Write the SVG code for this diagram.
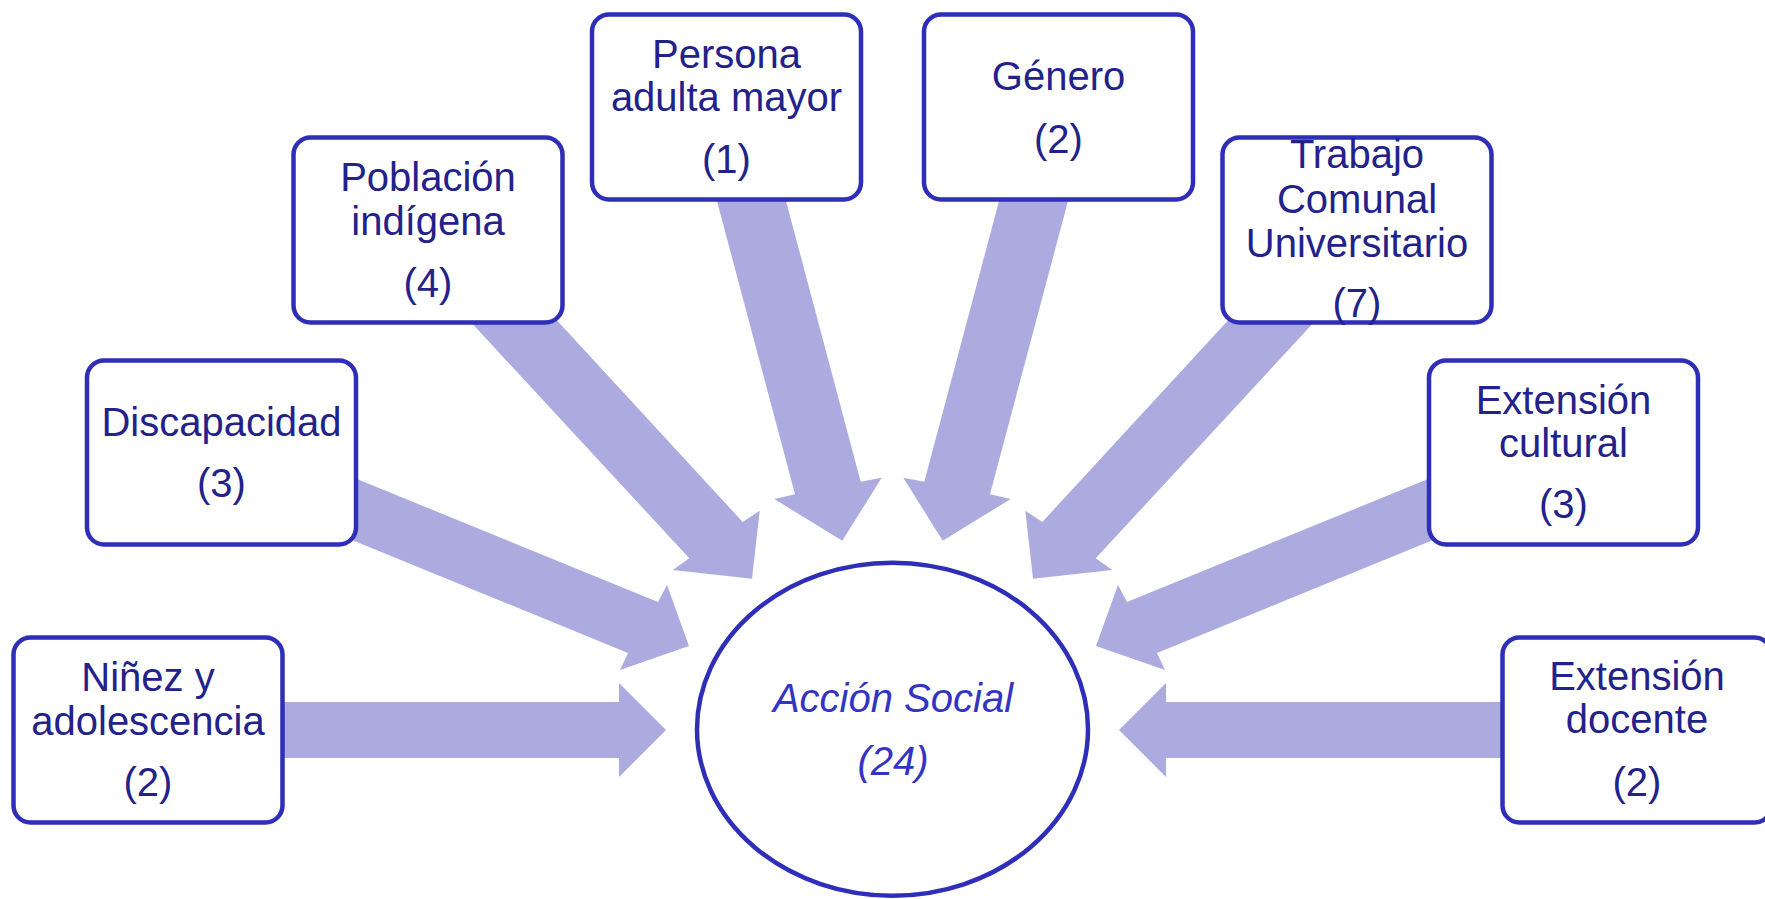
<svg xmlns="http://www.w3.org/2000/svg" width="1765" height="899" viewBox="0 0 1765 899">
<style>
.arrow{fill:#ababe0;stroke:none}
.box{fill:#ffffff;stroke:#2e2eb8;stroke-width:4.5}
.t{font-family:"Liberation Sans",Arial,sans-serif;font-size:40px;fill:#22228a;text-anchor:middle}
.c{font-family:"Liberation Sans",Arial,sans-serif;font-size:40px;font-style:italic;fill:#3434c4;text-anchor:middle}
</style>
<rect x="0" y="0" width="1765" height="899" fill="#ffffff"/>
<g id="connectors">
<polygon class="arrow" points="280,702 619,702 619,683 666,730 619,777 619,758 280,758"/>
<polygon class="arrow" points="1505,702 1166,702 1166,683 1119,730 1166,777 1166,758 1505,758"/>
<polygon class="arrow" points="330,468 658,602 667,585 689,646 620,670 628,653 330,531"/>
<polygon class="arrow" points="1455,468 1127,602 1118,585 1096,646 1165,670 1157,653 1455,531"/>
<polygon class="arrow" points="552,315 742.7,522 759.7,510.7 752,578.7 672.7,570 689.3,558.3 468,319"/>
<polygon class="arrow" points="1233,315 1042.3,522 1025.3,510.7 1033,578.7 1112.3,570 1095.7,558.3 1317,319"/>
<polygon class="arrow" points="713,186 795,494.3 774.3,499 842.3,540.7 881.7,477.7 860.7,481.7 782,186"/>
<polygon class="arrow" points="1072,186 990,494.3 1010.7,499 942.7,540.7 903.3,477.7 924.3,481.7 1003,186"/>
</g>
<g id="accion-social">
<ellipse cx="892.5" cy="729.2" rx="195.5" ry="166.5" fill="#ffffff" stroke="#2e2eb8" stroke-width="4.5"/>
<text class="c" x="893" y="712">Acción Social</text>
<text class="c" x="893" y="775">(24)</text>
</g>
<g id="ninez">
<rect class="box" x="13.5" y="637.5" width="269" height="185" rx="17"/>
<text class="t" x="148" y="691">Niñez y</text>
<text class="t" x="148" y="735">adolescencia</text>
<text class="t" x="148" y="796">(2)</text>
</g>
<g id="discapacidad">
<rect class="box" x="87" y="360.5" width="269" height="184" rx="17"/>
<text class="t" x="221.5" y="436">Discapacidad</text>
<text class="t" x="221.5" y="497">(3)</text>
</g>
<g id="poblacion">
<rect class="box" x="293.5" y="137.5" width="269" height="185" rx="17"/>
<text class="t" x="428" y="191">Población</text>
<text class="t" x="428" y="235">indígena</text>
<text class="t" x="428" y="297">(4)</text>
</g>
<g id="persona">
<rect class="box" x="592" y="14.5" width="269" height="185" rx="17"/>
<text class="t" x="726.5" y="68">Persona</text>
<text class="t" x="726.5" y="111">adulta mayor</text>
<text class="t" x="726.5" y="173">(1)</text>
</g>
<g id="genero">
<rect class="box" x="924" y="14.5" width="269" height="185" rx="17"/>
<text class="t" x="1058.5" y="90">Género</text>
<text class="t" x="1058.5" y="153">(2)</text>
</g>
<g id="trabajo">
<rect class="box" x="1222.5" y="137.5" width="269" height="185" rx="17"/>
<text class="t" x="1357" y="168">Trabajo</text>
<text class="t" x="1357" y="212.5">Comunal</text>
<text class="t" x="1357" y="256.5">Universitario</text>
<text class="t" x="1357" y="317">(7)</text>
</g>
<g id="ext-cultural">
<rect class="box" x="1429" y="360.5" width="269" height="184" rx="17"/>
<text class="t" x="1563.5" y="413.5">Extensión</text>
<text class="t" x="1563.5" y="457">cultural</text>
<text class="t" x="1563.5" y="518">(3)</text>
</g>
<g id="ext-docente">
<rect class="box" x="1502.5" y="637.5" width="269" height="185" rx="17"/>
<text class="t" x="1637" y="690">Extensión</text>
<text class="t" x="1637" y="733">docente</text>
<text class="t" x="1637" y="796">(2)</text>
</g>
</svg>
